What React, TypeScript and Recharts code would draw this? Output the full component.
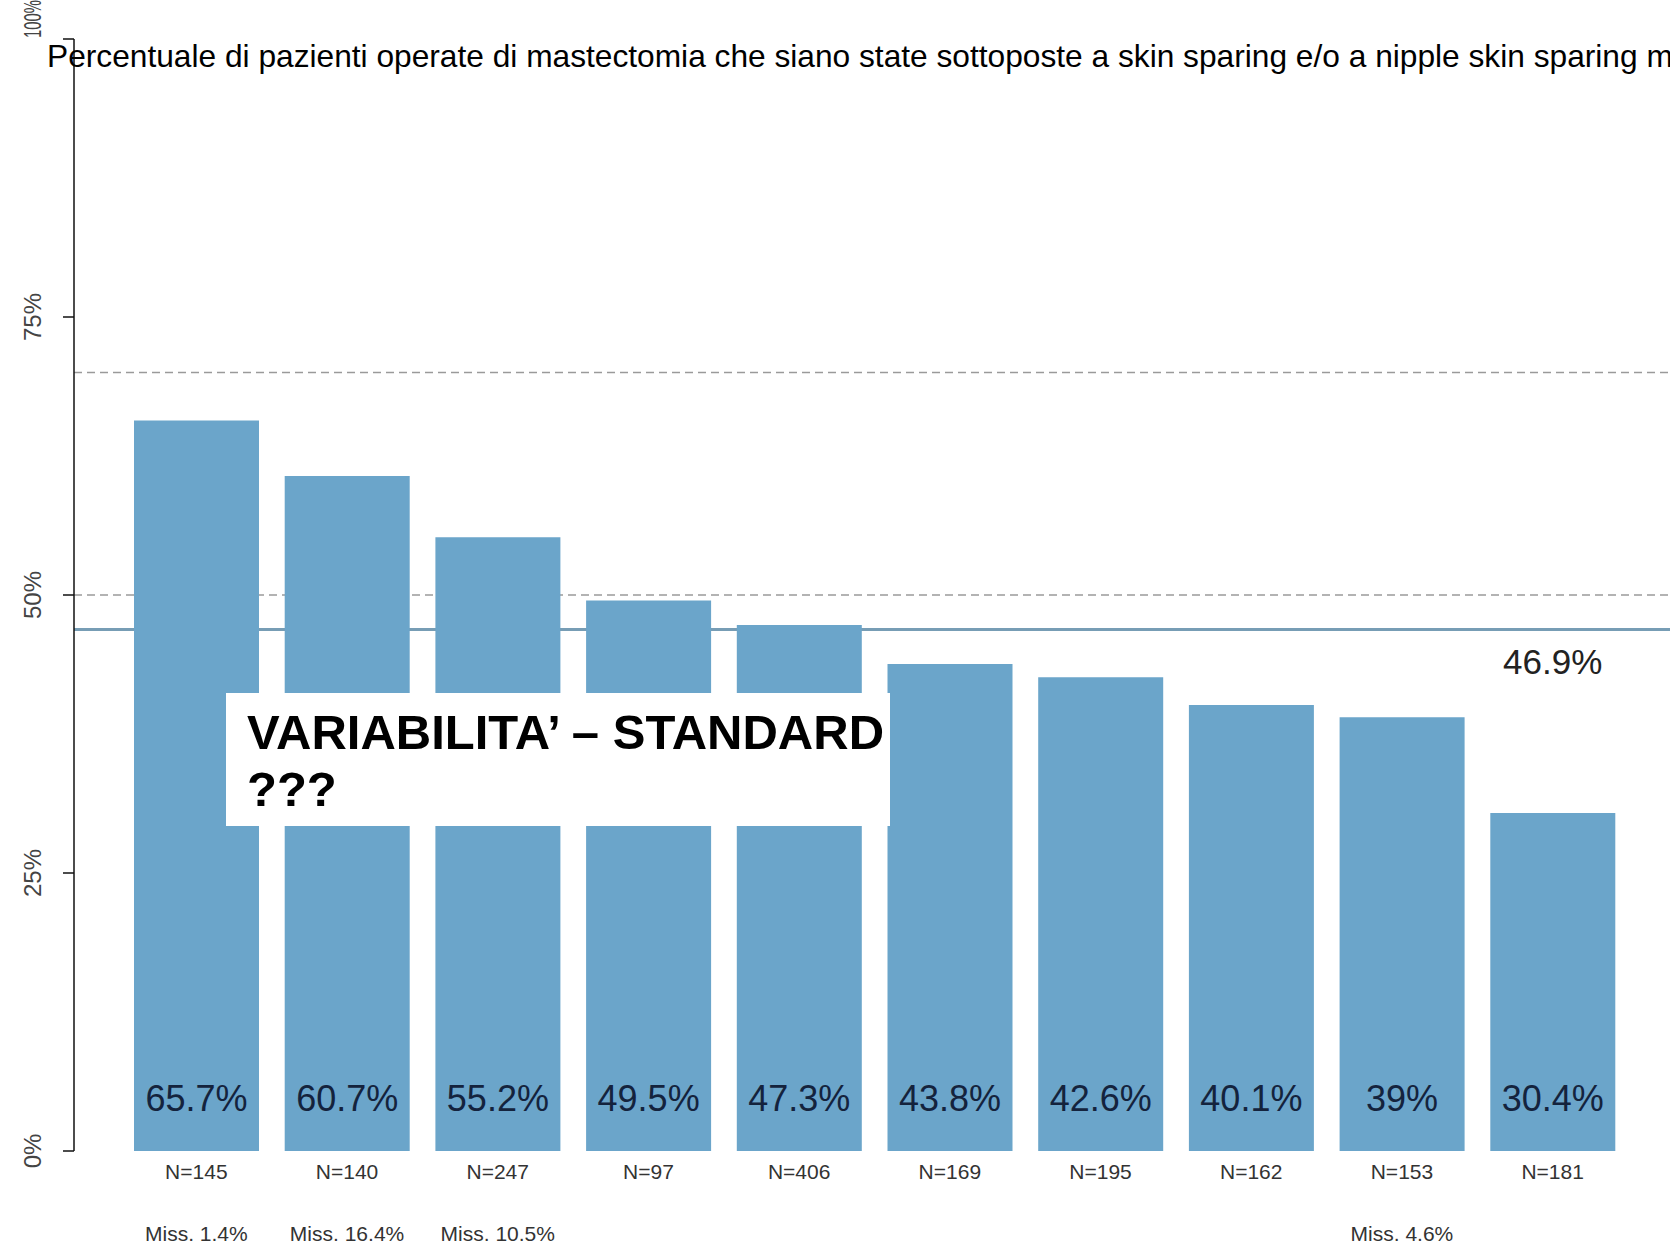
import React from "react";
import {
  BarChart,
  Bar,
  XAxis,
  YAxis,
  ReferenceLine,
  ReferenceDot,
  LabelList,
} from "recharts";

const categories = ["N=145", "N=140", "N=247", "N=97", "N=406", "N=169", "N=195", "N=162", "N=153", "N=181"];
const values = [65.7, 60.7, 55.2, 49.5, 47.3, 43.8, 42.6, 40.1, 39, 30.4];
const missLabels = ["Miss. 1.4%", "Miss. 16.4%", "Miss. 10.5%", "", "", "", "", "", "Miss. 4.6%", ""];
const yTicks = [0, 25, 50, 75, 100];
const meanValue = 46.9;
const dashedLevels = [70, 50];
const titleText =
  "Percentuale di pazienti operate di mastectomia che siano state sottoposte a skin sparing e/o a nipple skin sparing mastectomia";
const overlayLines = ["VARIABILITA\u2019 \u2013 STANDARD", "???"];

const data = categories.map((c, i) => ({ cat: c, value: values[i], miss: missLabels[i] }));

const FONT = "'Liberation Sans', Arial, Helvetica, sans-serif";
const CHART_W = 1760;
const CHART_H = 1247;
const MARGIN = { top: 39, right: 0, bottom: 0, left: 0 };
const XPAD = { left: 47, right: 132 };

const YTick = (props: any) => {
  const { y, payload } = props;
  const x = 32;
  const top = payload.value === 100;
  const yy = top ? y - 1 : y;
  const extra = top ? { textLength: 38, lengthAdjust: "spacingAndGlyphs" } : {};
  return (
    <text
      x={x}
      y={yy}
      transform={`rotate(-90, ${x}, ${yy})`}
      textAnchor={top ? "start" : "middle"}
      dominantBaseline="central"
      fontFamily={FONT}
      fontSize={24}
      fill="#444"
      {...(extra as any)}
    >
      {payload.value}%
    </text>
  );
};

const XTick = (props: any) => {
  const { x, payload } = props;
  const idx = payload.index;
  return (
    <g>
      <text x={x} y={1171} textAnchor="middle" dominantBaseline="central" fontFamily={FONT} fontSize={21} fill="#333">
        {payload.value}
      </text>
      <text x={x} y={1233} textAnchor="middle" dominantBaseline="central" fontFamily={FONT} fontSize={21} fill="#333">
        {missLabels[idx]}
      </text>
    </g>
  );
};

const ValueLabel = (props: any) => {
  const { x, y, width, height, value } = props;
  return (
    <text
      x={x + width / 2}
      y={y + height - 53}
      textAnchor="middle"
      dominantBaseline="central"
      fontFamily={FONT}
      fontSize={36}
      fill="#14233d"
    >
      {value}%
    </text>
  );
};

const MeanLabel = (props: any) => {
  const { viewBox } = props;
  const cx = viewBox.x + (viewBox.width || 0) / 2;
  const cy = viewBox.y + (viewBox.height || 0) / 2;
  return (
    <text x={cx} y={cy + 32} textAnchor="middle" dominantBaseline="central" fontFamily={FONT} fontSize={35} fill="#222">
      {meanValue}%
    </text>
  );
};

export default function App() {
  return (
    <div
      style={{
        position: "fixed",
        left: 0,
        top: 0,
        width: 1670,
        height: 1247,
        overflow: "hidden",
        background: "#fff",
      }}
    >
      {/* underlay: reference lines drawn behind the bars */}
      <div style={{ position: "absolute", left: 0, top: 0, zIndex: 0 }}>
        <BarChart width={CHART_W} height={CHART_H} data={data} margin={MARGIN} barSize={125}>
          <XAxis dataKey="cat" axisLine={false} tickLine={false} tick={false} height={96} padding={XPAD} />
          <YAxis domain={[0, 100]} ticks={yTicks} width={74} axisLine={false} tickLine={false} tick={false} />
          <Bar dataKey="value" fill="none" stroke="none" isAnimationActive={false} />
          {dashedLevels.map((lv) => (
            <ReferenceLine key={lv} y={lv} stroke="#9a9a9a" strokeWidth={1.5} strokeDasharray="8 5" />
          ))}
          <ReferenceLine y={meanValue} stroke="#779db5" strokeWidth={3} />
        </BarChart>
      </div>
      {/* main chart */}
      <div style={{ position: "absolute", left: 0, top: 0, zIndex: 1, background: "transparent" }}>
        <BarChart width={CHART_W} height={CHART_H} data={data} margin={MARGIN} barSize={125}>
          <XAxis
            dataKey="cat"
            axisLine={false}
            tickLine={false}
            height={96}
            padding={XPAD}
            tick={<XTick />}
            interval={0}
          />
          <YAxis
            domain={[0, 100]}
            ticks={yTicks}
            width={74}
            axisLine={{ stroke: "#111", strokeWidth: 1.5 }}
            tickLine={{ stroke: "#111", strokeWidth: 1.5 }}
            tickSize={11}
            tick={<YTick />}
            interval={0}
          />
          <Bar dataKey="value" fill="#6ba5ca" isAnimationActive={false}>
            <LabelList dataKey="value" content={<ValueLabel />} />
          </Bar>
          <ReferenceDot
            x={categories[categories.length - 1]}
            y={meanValue}
            r={0}
            fill="none"
            stroke="none"
            label={<MeanLabel />}
          />
        </BarChart>
      </div>
      <div
        style={{
          position: "absolute",
          left: 47,
          top: 38,
          zIndex: 2,
          fontFamily: FONT,
          fontSize: 31.7,
          lineHeight: "36px",
          whiteSpace: "nowrap",
          color: "#000",
        }}
      >
        {titleText}
      </div>
      <div
        style={{
          position: "absolute",
          left: 226,
          top: 693,
          zIndex: 3,
          width: 664,
          height: 133,
          background: "#fff",
        }}
      >
        <div
          style={{
            position: "absolute",
            left: 21,
            top: 11,
            fontFamily: FONT,
            fontWeight: "bold",
            fontSize: 49,
            lineHeight: "57px",
            whiteSpace: "nowrap",
            color: "#000",
          }}
        >
          {overlayLines.map((l, i) => (
            <div key={i}>{l}</div>
          ))}
        </div>
      </div>
    </div>
  );
}
